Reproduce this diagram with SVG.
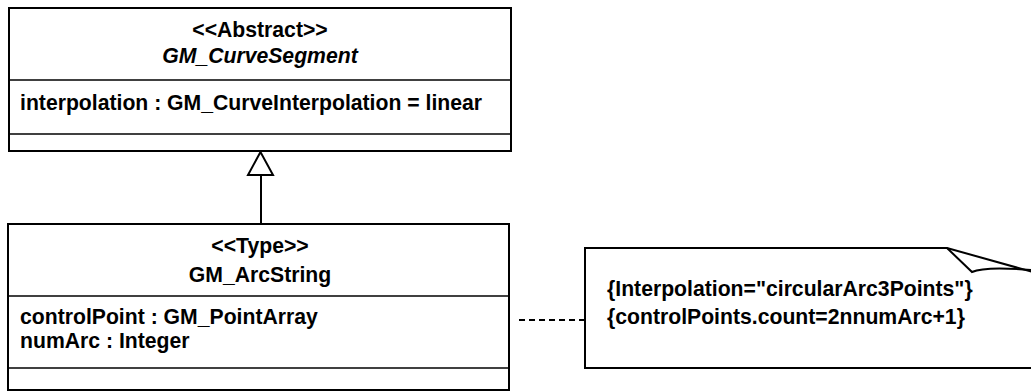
<svg xmlns="http://www.w3.org/2000/svg" width="1031" height="392" viewBox="0 0 1031 392">
<style>
.box{fill:#fff;stroke:#000;stroke-width:2}
.div{stroke:#000;stroke-width:1.6}
.t{font-family:"Liberation Sans",Arial,sans-serif;font-weight:bold;font-size:21.2px;fill:#000}
.c{text-anchor:middle}
.i{font-style:italic}
.conn{fill:none;stroke:#000;stroke-width:2}
</style>
<rect width="1031" height="392" fill="#fff"/>
<g id="GM_CurveSegment">
<rect class="box" x="9" y="8" width="502" height="143"/>
<line class="div" x1="9" y1="80" x2="511" y2="80"/>
<line class="div" x1="9" y1="134" x2="511" y2="134"/>
<text class="t c" x="260" y="37">&lt;&lt;Abstract&gt;&gt;</text>
<text class="t c i" x="260" y="63">GM_CurveSegment</text>
<text class="t" x="20" y="110">interpolation : GM_CurveInterpolation = linear</text>
</g>
<g id="GM_ArcString">
<rect class="box" x="8" y="224" width="501" height="166"/>
<line class="div" x1="8" y1="296" x2="509" y2="296"/>
<line class="div" x1="8" y1="368" x2="509" y2="368"/>
<text class="t c" x="260" y="253">&lt;&lt;Type&gt;&gt;</text>
<text class="t c" x="260" y="282">GM_ArcString</text>
<text class="t" x="20" y="324">controlPoint : GM_PointArray</text>
<text class="t" x="20" y="348">numArc : Integer</text>
</g>
<g id="note">
<path class="box" d="M585,248 H947 L1040,274 V368 H585 Z"/>
<path class="conn" d="M947,248 L972,272 Q985,266 1031,270"/>
<text class="t" x="607" y="296">{Interpolation="circularArc3Points"}</text>
<text class="t" x="607" y="324">{controlPoints.count=2nnumArc+1}</text>
</g>
<g id="connectors">
<line class="conn" x1="261" y1="175" x2="261" y2="224"/>
<polygon points="260.5,152 248,175 273,175" fill="#fff" stroke="#000" stroke-width="2"/>
<line class="conn" x1="519" y1="320" x2="585" y2="320" stroke-dasharray="6,4"/>
</g>
</svg>
